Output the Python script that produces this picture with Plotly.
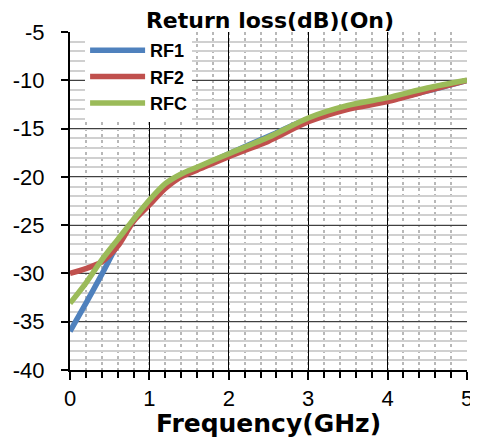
import plotly.graph_objects as go

freq = [0, 0.2, 0.4, 0.6, 0.8, 1.0, 1.2, 1.4, 1.6, 2.0, 2.5, 3.0, 3.5, 4.0, 4.5, 5.0]
rf1 = [-36.0, -33.1, -30.1, -27.0, -24.5, -22.5, -20.8, -19.8, -19.1, -17.6, -15.8, -14.0, -12.9, -12.1, -11.1, -10.0]
rf2 = [-30.0, -29.5, -28.8, -27.2, -24.6, -22.9, -21.2, -20.0, -19.3, -17.9, -16.3, -14.3, -13.0, -12.2, -11.1, -10.0]
rfc = [-33.1, -31.0, -28.6, -26.5, -24.4, -22.4, -20.7, -19.7, -19.0, -17.6, -15.9, -13.9, -12.6, -11.8, -10.8, -10.0]

series_names = ["RF1", "RF2", "RFC"]
series_vals = [rf1, rf2, rfc]
series_colors = ["#4F81BD", "#C0504D", "#9BBB59"]

x_ticks = [0, 1, 2, 3, 4, 5]
y_ticks = [-40, -35, -30, -25, -20, -15, -10, -5]

# the page body adds an 8px margin all round, so the figure fits inside it
W, H = 470, 430

fig = go.Figure()
for name, vals, col in zip(series_names, series_vals, series_colors):
    fig.add_trace(go.Scatter(
        x=freq, y=vals, mode="lines", name="<b>" + name + "</b>",
        line=dict(color=col, width=5.5, shape="spline", smoothing=0.7),
    ))

fig.update_layout(
    width=W, height=H,
    margin=dict(l=62, r=W - 459, t=24, b=H - 362, autoexpand=False),
    paper_bgcolor="white", plot_bgcolor="white",
    font=dict(family="Liberation Sans, Arial, sans-serif", color="black"),
    title=dict(text="<b>Return loss(dB)(On)</b>", x=262 / W, xanchor="center",
               y=1 - 12 / H, yanchor="middle",
               font=dict(family="DejaVu Sans", size=22, color="black"),
               automargin=False),
    legend=dict(x=0.038, y=1, xanchor="left", yanchor="top", bgcolor="white",
                borderwidth=0, font=dict(size=18, family="Liberation Sans"),
                itemwidth=55, tracegroupgap=0, entrywidth=100),
    showlegend=True,
)

fig.update_xaxes(
    range=[0, 5], tickvals=x_ticks, ticktext=[str(v) for v in x_ticks],
    tickfont=dict(size=22, family="Liberation Sans"),
    ticklabeloverflow="allow",
    showline=True, linecolor="black", linewidth=2,
    ticks="outside", ticklen=8, tickwidth=1.5, tickcolor="black",
    showgrid=True, gridcolor="black", gridwidth=1, zeroline=False,
    minor=dict(dtick=0.2, showgrid=True, gridcolor="#b8b8b8", griddash="dot",
               gridwidth=1.5, ticks="outside", ticklen=6, tickwidth=1.5, tickcolor="black"),
    title=dict(text="<b>Frequency(GHz)</b>", standoff=3,
               font=dict(family="DejaVu Sans", size=25, color="black")),
    automargin=False,
)
fig.update_yaxes(
    range=[-40, -5], tickvals=y_ticks, ticktext=[str(v) for v in y_ticks],
    tickfont=dict(size=22, family="Liberation Sans"),
    ticklabeloverflow="allow",
    showline=True, linecolor="black", linewidth=2,
    ticks="outside", ticklen=7, tickwidth=1.5, tickcolor="black",
    showgrid=True, gridcolor="#404040", gridwidth=1.2, zeroline=False,
    minor=dict(dtick=1, showgrid=True, gridcolor="#d0d0d0", gridwidth=1.5, ticks=""),
    ticklabelstandoff=12,
    automargin=False,
)

fig.write_html("out.html")
